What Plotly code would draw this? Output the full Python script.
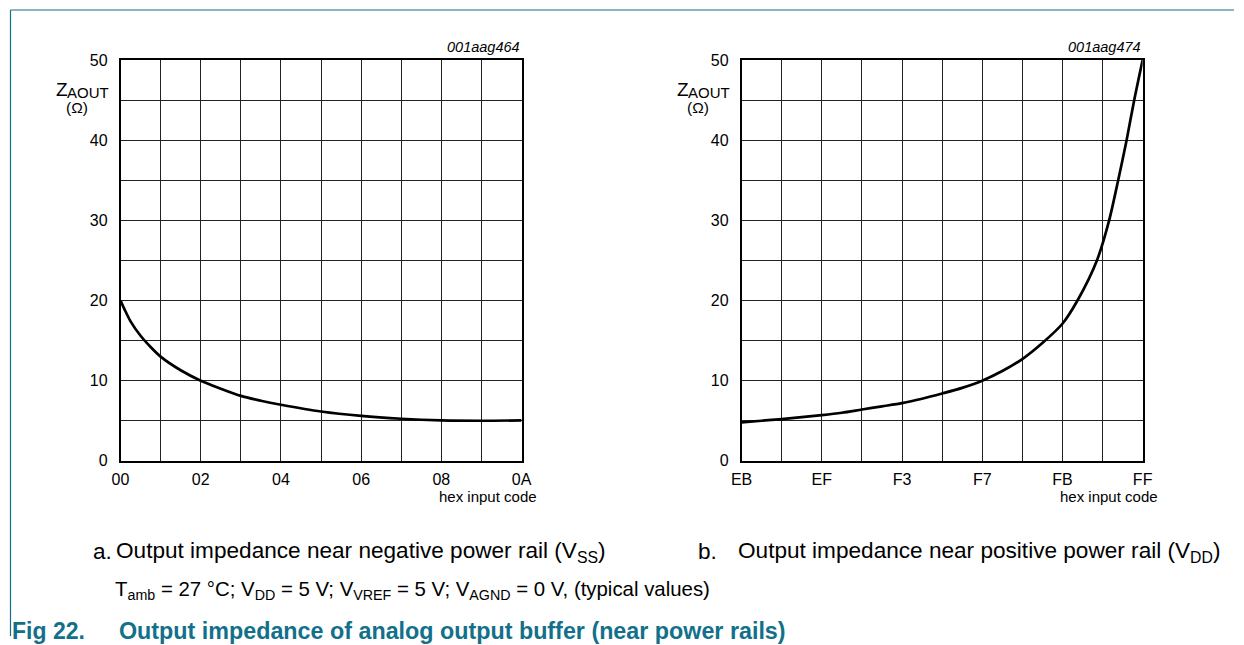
import plotly.graph_objects as go

# The photographed page is mapped as  picture = S * page + O ; positions below are given in
# reference-picture pixels and converted back to page pixels.
W, H = 1244, 645
SX, SY = 0.983, 0.974
OX, OY = 10.5, 8.0

# ---- data ----
left_codes = [0, 0.1, 0.25, 0.5, 0.75, 1, 1.5, 2, 2.5, 3, 3.5, 4, 5, 6, 7, 8, 9, 10]
left_z = [20.0, 18.9, 17.4, 15.6, 14.2, 13.0, 11.3, 10.0, 9.0, 8.1, 7.5, 7.0, 6.15, 5.6, 5.25, 5.05, 5.0, 5.05]
left_ticks = [0, 2, 4, 6, 8, 10]
left_ticktext = ["00", "02", "04", "06", "08", "0A"]

right_codes = [0, 1, 2, 3, 4, 5, 6, 7, 8, 9, 10, 11, 12, 13, 14, 15, 16,
               16.75, 17.72, 18.33, 18.78, 19.2, 19.58, 20]
right_z = [4.8, 5.0, 5.2, 5.45, 5.7, 6.0, 6.4, 6.8, 7.2, 7.75, 8.4, 9.1, 10.0, 11.2, 12.7, 14.7, 17.1,
           20.0, 25.0, 30.0, 35.0, 40.0, 45.0, 50.0]
right_ticks = [0, 4, 8, 12, 16, 20]
right_ticktext = ["EB", "EF", "F3", "F7", "FB", "FF"]

y_ticks = [0, 10, 20, 30, 40, 50]

TEAL = "#12708a"
FONT = "Liberation Sans, Arial, sans-serif"


def px(x):
    return ((x - OX) / SX) / W


def py(y):
    return 1 - ((y - OY) / SY) / H


fig = go.Figure()
fig.add_trace(go.Scatter(x=left_codes, y=left_z, mode="lines", xaxis="x", yaxis="y",
                         line=dict(color="black", width=2.7, shape="spline", smoothing=0.8),
                         showlegend=False, hoverinfo="skip"))
fig.add_trace(go.Scatter(x=right_codes, y=right_z, mode="lines", xaxis="x2", yaxis="y2",
                         line=dict(color="black", width=2.7, shape="spline", smoothing=0.8),
                         showlegend=False, hoverinfo="skip"))

ydom = [py(461), py(60)]
grid = "#222222"


def xaxis(dom, ticks, text, rng, minor, anchor):
    return dict(domain=dom, range=rng, tickvals=ticks, ticktext=text, anchor=anchor, showgrid=True,
                gridcolor=grid, gridwidth=1, zeroline=False, showline=True, mirror=True,
                linecolor="black", linewidth=1.5, ticks="", ticklabelstandoff=3,
                minor=dict(dtick=minor, showgrid=True, gridcolor=grid, gridwidth=1, ticks=""),
                tickfont=dict(family=FONT, size=16, color="black"), fixedrange=True)


def yaxis(anchor):
    return dict(domain=ydom, range=[0, 50], tickvals=y_ticks, anchor=anchor, showgrid=True,
                gridcolor=grid, gridwidth=1, zeroline=False, showline=True, mirror=True,
                linecolor="black", linewidth=1.5, ticks="", ticklabelstandoff=8,
                minor=dict(dtick=5, showgrid=True, gridcolor=grid, gridwidth=1, ticks=""),
                tickfont=dict(family=FONT, size=16, color="black"), fixedrange=True)


fig.update_layout(
    width=W, height=H, margin=dict(l=0, r=0, t=0, b=0),
    paper_bgcolor="white", plot_bgcolor="white",
    xaxis=xaxis([px(120), px(521)], left_ticks, left_ticktext, [0, 10], 1, "y"),
    yaxis=yaxis("x"),
    xaxis2=xaxis([px(741), px(1142)], right_ticks, right_ticktext, [0, 20], 2, "y2"),
    yaxis2=yaxis("x2"),
)

ann = []


def text(x, y, s, size, anchor="left", color="black", bold=False, italic=False):
    ann.append(dict(x=px(x), y=py(y), xref="paper", yref="paper", text=s, showarrow=False,
                    xanchor=anchor, yanchor="middle", align=anchor,
                    font=dict(family=FONT, size=size, color=color,
                              weight="bold" if bold else "normal",
                              style="italic" if italic else "normal")))


for off, code in ((0, "001aag464"), (621, "001aag474")):
    text(53 + off, 90, "Z", 19)
    text(64 + off, 92.5, "AOUT", 15)
    text(76 + off, 107.5, "(Ω)", 15.5, anchor="center")
    text(521 + off, 47, code, 14.5, anchor="right", italic=True)
    text(538 + off, 497, "hex input code", 15, anchor="right")

text(90, 552, "a.", 22.6)
text(113, 552, "Output impedance near negative power rail (V<sub>SS</sub>)", 22.6)
text(695, 552, "b.", 22.6)
text(735, 552, "Output impedance near positive power rail (V<sub>DD</sub>)", 22.6)
text(112, 591, "T<sub>amb</sub> = 27 °C; V<sub>DD</sub> = 5 V; V<sub>VREF</sub> = 5 V; V<sub>AGND</sub> = 0 V, (typical values)", 20.4)
text(10, 631, "Fig 22.", 23, color=TEAL, bold=True)
text(116, 631, "Output impedance of analog output buffer (near power rails)", 23.3, color=TEAL, bold=True)

fig.update_layout(annotations=ann)

fig.add_shape(type="line", xref="paper", yref="paper", x0=px(10), x1=1, y0=py(10), y1=py(10),
              line=dict(color=TEAL, width=1.2))
fig.add_shape(type="line", xref="paper", yref="paper", x0=px(10), x1=px(10), y0=py(10), y1=0,
              line=dict(color=TEAL, width=1.2))

fig.write_html("out.html", config={"displayModeBar": False},
               post_script="document.body.style.margin='0';")
